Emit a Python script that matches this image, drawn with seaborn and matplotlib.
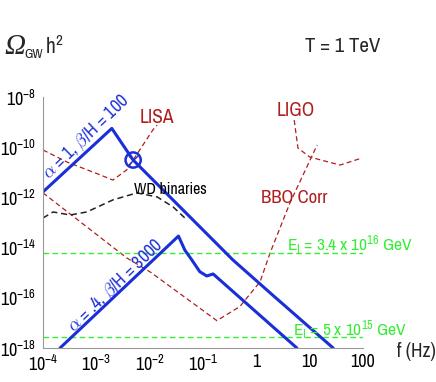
import numpy as np
import pandas as pd
import matplotlib
matplotlib.use("Agg")
import matplotlib.pyplot as plt
import seaborn as sns

# ---------------- data (log10 values) ----------------
# alpha = 1, beta/H = 100 spectrum
pt1_logf = [-4.0, -2.71, -2.31, -0.44, 0.31, 1.44]
pt1_logo = [-11.78, -9.25, -10.51, -14.49, -15.90, -18.0]
# alpha = .4, beta/H = 3000 spectrum
pt2_logf = [-3.68, -1.46, -1.34, -1.21, -1.06, -0.93, -0.81, 0.76]
pt2_logo = [-18.0, -13.54, -14.10, -14.49, -14.96, -15.13, -15.05, -18.0]
# LISA sensitivity
lisa_logf = [-4.0, -3.55, -2.93, -2.69, -2.43, -2.31, -1.94, -1.86]
lisa_logo = [-10.11, -10.59, -11.10, -11.31, -10.90, -10.51, -9.31, -9.12]
# BBO Corr sensitivity
bbo_logf = [-4.0, -2.43, -1.99, -0.74, -0.31, 0.07, 0.26, 0.63, 1.14]
bbo_logo = [-11.82, -14.41, -14.97, -16.91, -16.35, -15.36, -14.20, -12.22, -9.91]
# LIGO sensitivity
ligo_logf = [0.71, 0.78, 1.00, 1.57, 1.98]
ligo_logo = [-8.92, -10.03, -10.39, -10.71, -10.43]
# WD binaries foreground
wd_logf = [-4.0, -3.81, -3.49, -3.18, -2.69, -2.24, -1.86, -1.56, -1.30]
wd_logo = [-12.82, -12.58, -12.70, -12.58, -12.10, -11.82, -11.98, -12.38, -12.90]
# inflation-scale horizontal levels
e_levels_logo = [-14.22, -17.56]
e_labels = [r"E$_{\rm I}$ = 3.4 x 10$^{16}$ GeV", r"E$_{\rm I}$ = 5 x 10$^{15}$ GeV"]
e_label_logf = [0.575, 0.69]
e_label_logo = [-13.90, -17.28]
# marker (crossing point)
mark_logf = [-2.31]
mark_logo = [-10.51]

xtick_vals = [1e-4, 1e-3, 1e-2, 1e-1, 1, 10, 100]
xtick_labels = [r"$10^{-4}$", r"$10^{-3}$", r"$10^{-2}$", r"$10^{-1}$", "1", "10", "100"]
ytick_vals = [1e-18, 1e-16, 1e-14, 1e-12, 1e-10, 1e-8]
ytick_labels = [r"$10^{-18}$", r"$10^{-16}$", r"$10^{-14}$", r"$10^{-12}$", r"$10^{-10}$", r"$10^{-8}$"]

# ---------------- style ----------------
sns.set_style("white")
FONT = "Archivo Narrow"
plt.rcParams["font.family"] = [FONT, "Liberation Sans", "DejaVu Sans"]
plt.rcParams["mathtext.fontset"] = "custom"
plt.rcParams["mathtext.rm"] = FONT
plt.rcParams["mathtext.it"] = FONT + ":italic"
plt.rcParams["mathtext.bf"] = FONT + ":bold"
plt.rcParams["mathtext.sf"] = FONT

BLUE = "#1a2fd8"
RED = "#b01e1e"
GREEN = "#33ee33"

fig = plt.figure(figsize=(4.36, 3.82), dpi=100)
ax = fig.add_axes([0.0986, 0.089, 0.734, 0.657])
ax.set_xscale("log")
ax.set_yscale("log")


def draw(lf, lo, **kw):
    df = pd.DataFrame({"f": np.power(10.0, lf), "o": np.power(10.0, lo)})
    sns.lineplot(data=df, x="f", y="o", ax=ax, sort=False, estimator=None, **kw)


draw(lisa_logf, lisa_logo, color=RED, lw=0.9, linestyle=(0, (4, 2.5)))
draw(bbo_logf, bbo_logo, color=RED, lw=0.9, linestyle=(0, (4, 2.5)))
draw(ligo_logf, ligo_logo, color=RED, lw=0.9, linestyle=(0, (4, 2.5)))
draw(wd_logf, wd_logo, color="#222222", lw=1.1, linestyle=(0, (4, 2.5)))
for lv in e_levels_logo:
    draw([-4.0, 2.0], [lv, lv], color=GREEN, lw=1.0, linestyle=(0, (4, 2.5)))
draw(pt1_logf, pt1_logo, color=BLUE, lw=2.2)
draw(pt2_logf, pt2_logo, color=BLUE, lw=2.2)

mk = pd.DataFrame({"f": np.power(10.0, mark_logf), "o": np.power(10.0, mark_logo)})
sns.scatterplot(data=mk, x="f", y="o", ax=ax, s=120, facecolor="none",
                edgecolor=BLUE, linewidth=1.8, zorder=5)
sns.scatterplot(data=mk, x="f", y="o", ax=ax, s=45, marker="x",
                color=BLUE, linewidth=1.0, zorder=5)

ax.set_xlim(1e-4, 100)
ax.set_ylim(1e-18, 1e-8)
ax.set_xlabel("")
ax.set_ylabel("")

ax.xaxis.set_major_locator(matplotlib.ticker.FixedLocator(xtick_vals))
ax.xaxis.set_major_formatter(matplotlib.ticker.FixedFormatter(xtick_labels))
ax.yaxis.set_major_locator(matplotlib.ticker.FixedLocator(ytick_vals))
ax.yaxis.set_major_formatter(matplotlib.ticker.FixedFormatter(ytick_labels))
ax.xaxis.set_minor_locator(matplotlib.ticker.LogLocator(base=10, subs=np.arange(2, 10), numticks=50))
ax.yaxis.set_minor_locator(matplotlib.ticker.LogLocator(base=10, subs=np.arange(1, 10), numticks=50))
ax.yaxis.set_minor_formatter(matplotlib.ticker.NullFormatter())
ax.xaxis.set_minor_formatter(matplotlib.ticker.NullFormatter())
ax.tick_params(which="both", direction="in", color="#888888", labelsize=13,
               labelcolor="black")
ax.tick_params(which="major", length=4, width=0.7)
ax.tick_params(which="minor", length=2, width=0.5)
ax.tick_params(axis="y", pad=5)
ax.tick_params(axis="x", pad=4)
for s in ["top", "right"]:
    ax.spines[s].set_visible(False)
for s in ["left", "bottom"]:
    ax.spines[s].set_color("#999999")
    ax.spines[s].set_linewidth(0.8)

# annotations
ax.text(10 ** -3.19, 10 ** -9.61, r"$\alpha$ = 1, $\beta$/H = 100", color=BLUE,
        fontsize=13, rotation=44, ha="center", va="center")
ax.text(10 ** -2.64, 10 ** -15.53, r"$\alpha$ = .4, $\beta$/H = 3000", color=BLUE,
        fontsize=13, rotation=44, ha="center", va="center")
ax.text(10 ** -1.86, 10 ** -8.8, "LISA", color=RED, fontsize=14, ha="center", va="center")
ax.text(10 ** 0.735, 10 ** -8.52, "LIGO", color=RED, fontsize=14, ha="center", va="center")
ax.text(10 ** -1.61, 10 ** -11.7, "WD binaries", color="black", fontsize=11.5,
        ha="center", va="center")
ax.text(10 ** 0.716, 10 ** -12.04, "BBO Corr", color=RED, fontsize=13.5,
        ha="center", va="center")
for lab, lf, lo in zip(e_labels, e_label_logf, e_label_logo):
    ax.text(10 ** lf, 10 ** lo, lab, color=GREEN, fontsize=12.5, ha="left",
            va="center", clip_on=False)

fig.text(0.010, 0.877, "Ω", style="italic", fontsize=21, va="center", ha="left",
         family=["Liberation Serif", "DejaVu Serif"])
fig.text(0.057, 0.858, "GW", fontsize=9.5, va="center", ha="left")
fig.text(0.104, 0.877, r"h$^{2}$", fontsize=15.5, va="center", ha="left")
fig.text(0.699, 0.877, "T = 1 TeV", fontsize=15, va="center", ha="left")
fig.text(0.911, 0.081, "f (Hz)", fontsize=14, va="center", ha="left")

fig.savefig("out.png", dpi=100)
